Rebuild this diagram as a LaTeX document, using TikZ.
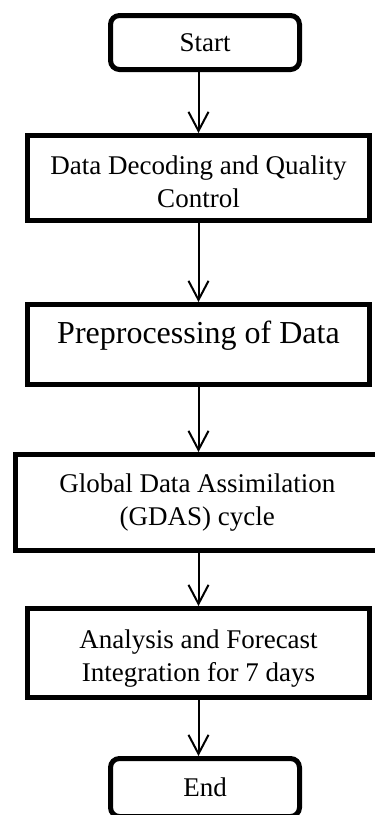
\documentclass[tikz,border=0pt]{standalone}
\usepackage{fontspec}
\setmainfont{Liberation Serif}
\usetikzlibrary{arrows.meta}

\begin{document}
\begin{tikzpicture}[x=1pt, y=-1pt,
    stepbox/.style={draw, line width=5pt, inner sep=0pt, align=center,
        font=\fontsize{27}{33}\selectfont},
    termbox/.style={stepbox, rounded corners=9pt, minimum width=189pt},
    arr/.style={-{Straight Barb[length=19pt, width=20pt, line width=2pt]}, line width=2pt}]
    \useasboundingbox (0,0) rectangle (375,815);
    \clip (0,0) rectangle (375,815);

    \node[termbox, minimum height=54pt] (start) at (205, 42.5) {Start};

    \node[stepbox, minimum width=342pt, minimum height=85pt, text height=58pt, text depth=0pt] (decode) at (198.5, 178) {
        Data Decoding and Quality\\
        Control
    };

    \node[stepbox, minimum width=342pt, minimum height=80pt, text depth=25pt,
        font=\fontsize{32}{38}\selectfont] (prep) at (198.5, 344.5) {Preprocessing of Data};

    \node[stepbox, minimum width=363.5pt, minimum height=96pt] (gdas) at (197.25, 502.5) {
        Global Data Assimilation\\
        (GDAS) cycle
    };

    \node[stepbox, minimum width=342pt, minimum height=89pt, text height=56pt, text depth=0pt] (fcst) at (198.5, 653) {
        Analysis and Forecast\\
        Integration for 7 days
    };

    \node[termbox, minimum height=58pt] (end) at (205, 787.5) {End};

    \draw[arr] (start.south -| decode.north) -- (decode.north);
    \draw[arr] (decode.south) -- (prep.north);
    \draw[arr] (prep.south) -- (prep.south |- gdas.north);
    \draw[arr] (gdas.south -| fcst.south) -- (fcst.north);
    \draw[arr] (fcst.south) -- (fcst.south |- end.north);
\end{tikzpicture}
\end{document}
